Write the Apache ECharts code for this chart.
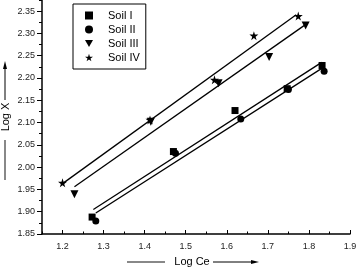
<!DOCTYPE html>
<html>
<head>
<meta charset="utf-8">
<script src="https://cdn.jsdelivr.net/npm/echarts@6/dist/echarts.min.js"></script>
<style>
  html, body { margin: 0; padding: 0; background: #fff; }
  #chart { width: 357px; height: 269px; }
</style>
</head>
<body>
<div id="chart"></div>
<script>
// ---- data ----
var soilNames = ['Soil I', 'Soil II', 'Soil III', 'Soil IV'];

var soilI   = [[1.272, 1.888], [1.470, 2.035], [1.620, 2.127], [1.747, 2.176], [1.832, 2.228]];
var soilII  = [[1.281, 1.879], [1.475, 2.031], [1.634, 2.108], [1.750, 2.174], [1.837, 2.215]];
var soilIII = [[1.229, 1.939], [1.415, 2.102], [1.580, 2.188], [1.703, 2.247], [1.792, 2.318]];
var soilIV  = [[1.200, 1.965], [1.413, 2.106], [1.570, 2.196], [1.666, 2.295], [1.774, 2.339]];

// fitted lines (end points)
var fitI   = [[1.275, 1.905], [1.831, 2.235]];
var fitII  = [[1.281, 1.897], [1.837, 2.225]];
var fitIII = [[1.229, 1.956], [1.795, 2.322]];
var fitIV  = [[1.200, 1.963], [1.769, 2.342]];

var xTicks = [1.2, 1.3, 1.4, 1.5, 1.6, 1.7, 1.8, 1.9];
var xMinorTicks = [1.15, 1.25, 1.35, 1.45, 1.55, 1.65, 1.75, 1.85];
var yTicks = [1.85, 1.90, 1.95, 2.00, 2.05, 2.10, 2.15, 2.20, 2.25, 2.30, 2.35];
var yMinorTicks = [1.875, 1.925, 1.975, 2.025, 2.075, 2.125, 2.175, 2.225, 2.275, 2.325, 2.375];

var starPath = 'path://M50,0 L61,35 L98,35 L68,57 L79,91 L50,70 L21,91 L32,57 L2,35 L39,35 Z';
var triDownPath = 'path://M0,0 L10,0 L5,9 Z';

var chart = echarts.init(document.getElementById('chart'));

var font = 'Liberation Sans, Arial, sans-serif';

function scatter(name, data, symbol, size) {
    return {
        name: name,
        type: 'scatter',
        data: data,
        symbol: symbol,
        symbolSize: size,
        itemStyle: { color: '#000', opacity: 1 },
        z: 3
    };
}

function fitLine(data) {
    return {
        type: 'line',
        data: data,
        showSymbol: false,
        symbol: 'none',
        lineStyle: { color: '#000', width: 1.3 },
        silent: true,
        z: 2
    };
}

var option = {
    animation: false,
    textStyle: { fontFamily: font },
    grid: { left: 42, right: 7, top: 0, bottom: 35, containLabel: false, outerBoundsMode: 'none' },
    legend: {
        left: 73,
        top: 4,
        orient: 'vertical',
        padding: [6, 6, 6, 12],
        borderColor: '#000',
        borderWidth: 1,
        itemWidth: 8,
        itemHeight: 8,
        itemGap: 3,
        textStyle: { fontSize: 11, color: '#000', fontFamily: font, padding: [0, 0, 0, 10] },
        data: soilNames
    },
    xAxis: [{
        type: 'value',
        min: 1.15,
        max: 1.9,
        name: 'Log Ce',
        nameLocation: 'middle',
        nameGap: 22,
        nameMoveOverlap: false,
        nameTextStyle: { fontSize: 11, color: '#000', padding: [0, 8, 0, 0] },
        axisLine: { lineStyle: { color: '#000', width: 1.5 } },
        axisTick: { inside: true, length: 4, customValues: xTicks, lineStyle: { color: '#000', width: 1 } },
        axisLabel: {
            customValues: xTicks, margin: 8, fontSize: 9, color: '#222',
            formatter: function (v) { return v.toFixed(1); }
        },
        splitLine: { show: false }
    }, {
        type: 'value',
        position: 'bottom',
        min: 1.15,
        max: 1.9,
        axisLine: { show: false },
        axisTick: { inside: true, length: 2.5, customValues: xMinorTicks, lineStyle: { color: '#000', width: 1 } },
        axisLabel: { show: false },
        splitLine: { show: false }
    }],
    yAxis: [{
        type: 'value',
        min: 1.85,
        max: 2.375,
        name: 'Log X',
        nameLocation: 'middle',
        nameRotate: 90,
        nameGap: 31,
        nameMoveOverlap: false,
        nameTextStyle: { fontSize: 11, color: '#000' },
        axisLine: { show: true, lineStyle: { color: '#000', width: 1.5 } },
        axisTick: { show: true, length: 5, customValues: yTicks, lineStyle: { color: '#000', width: 1 } },
        axisLabel: {
            customValues: yTicks, margin: 7, fontSize: 9, color: '#222',
            formatter: function (v) { return v.toFixed(2); }
        },
        splitLine: { show: false }
    }, {
        type: 'value',
        position: 'left',
        min: 1.85,
        max: 2.375,
        axisLine: { show: false },
        axisTick: { show: true, length: 3, customValues: yMinorTicks, lineStyle: { color: '#000', width: 1 } },
        axisLabel: { show: false },
        splitLine: { show: false }
    }],
    graphic: [
        // gray bar + arrow around the x axis name
        { type: 'line', shape: { x1: 127, y1: 262, x2: 165, y2: 262 }, style: { stroke: '#888', lineWidth: 2 } },
        { type: 'line', shape: { x1: 213, y1: 262, x2: 254, y2: 262 }, style: { stroke: '#000', lineWidth: 1 } },
        { type: 'polygon', shape: { points: [[259, 262], [251, 260], [251, 264]] }, style: { fill: '#000' } },
        // gray bar + arrow around the y axis name
        { type: 'line', shape: { x1: 5, y1: 180, x2: 5, y2: 140 }, style: { stroke: '#888', lineWidth: 2 } },
        { type: 'line', shape: { x1: 5, y1: 100, x2: 5, y2: 67 }, style: { stroke: '#000', lineWidth: 1 } },
        { type: 'polygon', shape: { points: [[5, 61], [3, 69], [7, 69]] }, style: { fill: '#000' } }
    ],
    series: [
        scatter('Soil I', soilI, 'rect', 7),
        scatter('Soil II', soilII, 'circle', 7),
        scatter('Soil III', soilIII, triDownPath, 8),
        scatter('Soil IV', soilIV, starPath, 9),
        fitLine(fitI),
        fitLine(fitII),
        fitLine(fitIII),
        fitLine(fitIV)
    ]
};

chart.setOption(option);
</script>
</body>
</html>
